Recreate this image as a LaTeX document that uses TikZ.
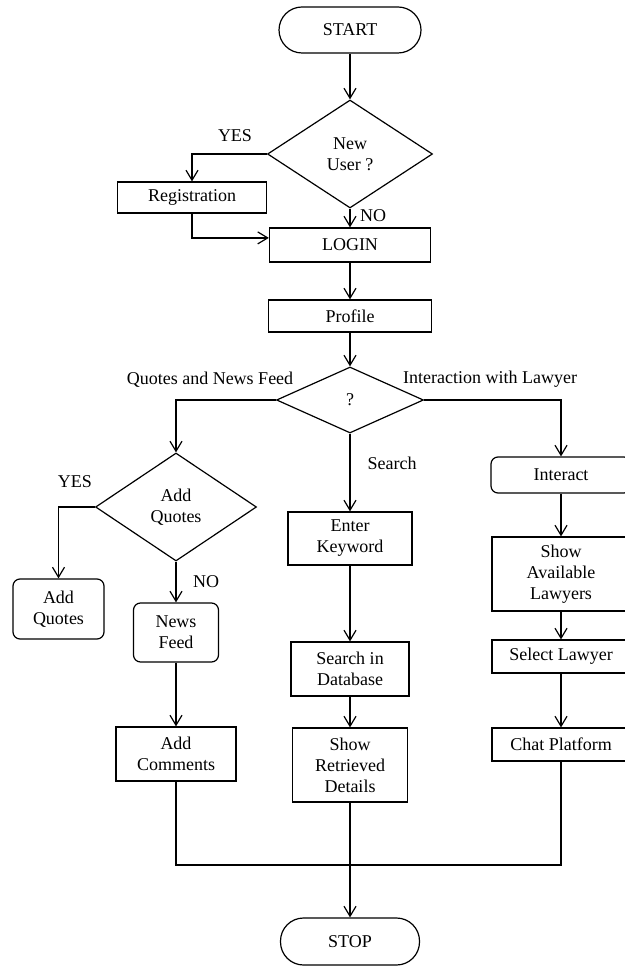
\documentclass[tikz,border=0pt]{standalone}
\usepackage{fontspec}
\setmainfont{Liberation Serif}
\usetikzlibrary{positioning, arrows.meta, shapes.geometric}

\begin{document}
\begin{tikzpicture}[
    x=0.5pt, y=-0.5pt,
    font=\fontsize{9}{10.5}\selectfont,
    line width=0.6pt,
    box/.style={draw, rectangle, align=center, inner sep=1pt},
    rbox/.style={box, rounded corners=3.5pt},
    term/.style={box, rounded corners=11.5pt},
    dec/.style={draw, diamond, align=center, inner sep=0pt},
    lbl/.style={inner sep=0pt},
    arrow/.style={-{Straight Barb[length=5pt, width=6pt]}}
]
\clip (0,0) rectangle (625,967);
% Top — login part
\node[term, minimum width=71pt, minimum height=23pt] (start) at (350,30) {START};
\node[dec, minimum width=82.5pt, minimum height=54pt] (newuser) at (350,154) {New\\User ?};
\node[box, minimum width=74.5pt, minimum height=15.5pt] (reg) at (192,197.5) {Registration};
\node[box, minimum width=80.5pt, minimum height=17pt] (login) at (350,245) {LOGIN};
\node[box, minimum width=81.5pt, minimum height=16pt] (profile) at (350,316) {Profile};
\node[dec, minimum width=73.5pt, minimum height=33pt] (choice) at (350,400) {?};
\node[lbl] (yes_a) at (235,136) {YES};
\node[lbl] (no_a) at (373,216) {NO};
\node[lbl] (qnf) at (210,380) {Quotes and News Feed};
\node[lbl] (iwl) at (490,379) {Interaction with Lawyer};
% Left — quotes and news feed
\node[dec, minimum width=80.5pt, minimum height=54pt] (addq) at (176,507) {Add\\Quotes};
\node[rbox, minimum width=45.5pt, minimum height=30pt] (quotes) at (58.5,609) {Add\\Quotes};
\node[rbox, minimum width=42.5pt, minimum height=29.5pt] (news) at (176,632.5) {News\\Feed};
\node[box, minimum width=60pt, minimum height=27pt] (comments) at (176,754) {Add\\Comments};
\node[lbl] (yes_b) at (75,482) {YES};
\node[lbl] (no_b) at (206,582) {NO};
% Middle — search
\node[box, minimum width=62pt, minimum height=26.5pt] (keyword) at (350,538.5) {Enter\\Keyword};
\node[box, minimum width=59pt, minimum height=27pt] (database) at (350,669) {Search in\\Database};
\node[box, minimum width=57.5pt, minimum height=37pt] (details) at (350,765) {Show\\Retrieved\\Details};
% Right — lawyer
\node[rbox, minimum width=70pt, minimum height=18pt] (interact) at (561,475) {Interact};
\node[box, minimum width=69pt, minimum height=37pt] (lawyers) at (561,574) {Show\\Available\\Lawyers};
\node[box, minimum width=69pt, minimum height=16.5pt] (select) at (561,656.5) {Select Lawyer};
\node[box, minimum width=69pt, minimum height=16.5pt] (chat) at (561,744.5) {Chat Platform};
% Bottom
\node[term, minimum width=69.5pt, minimum height=23.5pt] (stop) at (350,941.5) {STOP};
\coordinate (join) at (350,865);

\draw[arrow] (start) -- (newuser);
\draw[arrow] (newuser.west) -| (reg.north);
\draw[arrow] (newuser) -- (login);
\draw[arrow] (reg.south) |- (login.175);
\draw[arrow] (login) -- (profile);
\draw[arrow] (profile) -- (choice);
\draw[arrow] (choice.west) -| (addq.north);
\draw[arrow] (choice) -- node[lbl, right=8.5pt, pos=0.38] (srch) {Search} (keyword);
\draw[arrow] (choice.east) -| (interact.north);
\draw[arrow] (addq.west) -| (quotes.north);
\draw[arrow] (addq) -- (news);
\draw[arrow] (news) -- (comments);
\draw[arrow] (keyword) -- (database);
\draw[arrow] (database) -- (details);
\draw[arrow] (interact) -- (lawyers);
\draw[arrow] (lawyers) -- (select);
\draw[arrow] (select) -- (chat);
\draw (comments.south) |- (join) -| (chat.south);
\draw[arrow] (details) -- (stop);
\end{tikzpicture}
\end{document}
